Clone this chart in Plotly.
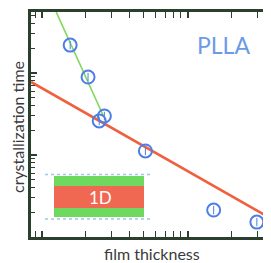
import plotly.graph_objects as go

# data (log-log, arbitrary units)
thickness = [15.6, 20.7, 24.7, 26.8, 51.3, 151, 299]
cryst_time = [21.9, 8.93, 2.60, 2.99, 1.12, 0.213, 0.152]

green_x = [12.5, 26.4]
green_y = [55.5, 2.99]
red_x = [8.4, 368]
red_y = [7.77, 0.171]

X_RANGE = [0.924, 2.566]
Y_RANGE = [-1.0, 1.744]

FRAME = "#2b3f2e"
BLUE = "#4d7ee6"
FONT = "Lato"

fig = go.Figure()
fig.add_trace(go.Scatter(x=red_x, y=red_y, mode="lines",
                         line=dict(color="#f0603f", width=2.6), hoverinfo="skip"))
fig.add_trace(go.Scatter(x=green_x, y=green_y, mode="lines",
                         line=dict(color="#7fd85a", width=1.6), hoverinfo="skip"))
fig.add_trace(go.Scatter(x=thickness, y=cryst_time, mode="markers",
                         marker=dict(symbol="circle-open", size=13, color=BLUE,
                                     line=dict(color=BLUE, width=2))))
fig.add_trace(go.Scatter(x=thickness, y=cryst_time, mode="markers",
                         marker=dict(symbol="line-ns-open", size=6, color=BLUE,
                                     line=dict(color=BLUE, width=1))))
# right axis (lighter dotted frame)
fig.add_trace(go.Scatter(x=[thickness[0]], y=[cryst_time[0]], yaxis="y2",
                         mode="markers", marker=dict(opacity=0), hoverinfo="skip"))

W, H = 239.0, 225.0
L, T = 31.0, 12.0
def px(x): return (x - L) / W
def py(y): return 1 - (y - T) / H

def rect(x0, x1, y0, y1, color):
    fig.add_shape(type="rect", xref="paper", yref="paper", x0=px(x0), x1=px(x1),
                  y0=py(y0), y1=py(y1), fillcolor=color, line=dict(width=0), layer="below")

def label(x, y, text, size, color, angle=0):
    fig.add_annotation(xref="paper", yref="paper", x=px(x), y=py(y), text=text,
                       xanchor="center", yanchor="middle", textangle=angle,
                       showarrow=False, font=dict(family=FONT, size=size, color=color))

# 1D inset illustration
rect(54, 144, 186, 176, "#6fd85f")
rect(54, 144, 208, 186, "#f06852")
rect(54, 144, 217, 208, "#6fd85f")
for yy in (174.5, 219):
    fig.add_shape(type="line", xref="paper", yref="paper", x0=px(45), x1=px(152),
                  y0=py(yy), y1=py(yy), line=dict(color="#9cc8e8", width=1.5, dash="dot"),
                  layer="below")
label(100, 197, "1D", 17, "white")
label(223, 45, "PLLA", 23, "#6b9be6")
# axis titles
label(152, 253, "film thickness", 16, "#3a3a3a")
label(18, 127, "crystallization time", 16, "#3a3a3a", -90)

axis_common = dict(type="log", showgrid=False, zeroline=False, showticklabels=False,
                   ticks="inside", ticklen=6, tickwidth=1.5, tickcolor=FRAME, dtick=1,
                   minor=dict(ticks="inside", ticklen=4, tickwidth=1.3, tickcolor=FRAME,
                              dtick="D1", showgrid=False))

# page body has an 8px default margin; figure is sized/offset to compensate
fig.update_layout(
    width=263, height=255, margin=dict(l=23, r=1, t=4, b=26),
    paper_bgcolor="white", plot_bgcolor="white", showlegend=False,
    xaxis=dict(range=X_RANGE, showline=True, linecolor=FRAME, linewidth=3,
               mirror="allticks", **axis_common),
    yaxis=dict(range=Y_RANGE, showline=True, linecolor=FRAME, linewidth=3,
               **axis_common),
    yaxis2=dict(range=Y_RANGE, overlaying="y", side="right", showline=True,
                linecolor="#9aa89a", linewidth=1, **axis_common),
)

fig.write_html("out.html")
